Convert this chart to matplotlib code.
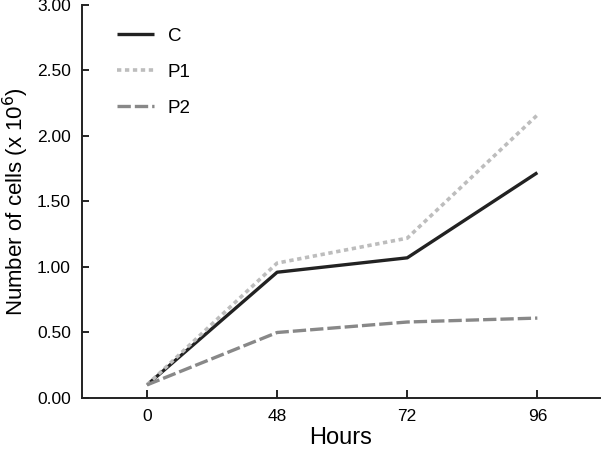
import matplotlib
matplotlib.use("Agg")
import matplotlib.pyplot as plt

hours = ["0", "48", "72", "96"]
c_vals = [0.10, 0.96, 1.07, 1.72]
p1_vals = [0.10, 1.03, 1.22, 2.16]
p2_vals = [0.10, 0.50, 0.58, 0.61]

plt.rcParams["font.family"] = ["Liberation Sans", "DejaVu Sans"]

fig = plt.figure(figsize=(6.01, 4.49), dpi=100)
ax = fig.add_axes([0.1364, 0.1136, 0.8616, 0.8753])

x = range(len(hours))
ax.plot(x, c_vals, color="#222222", lw=2.4, solid_capstyle="butt", label="C")
ax.plot(x, p1_vals, color="#bdbdbd", lw=2.6, linestyle=(0, (1.2, 1.0)),
        dash_capstyle="butt", label="P1")
ax.plot(x, p2_vals, color="#888888", lw=2.4, linestyle=(0, (4, 1.2)),
        dash_capstyle="butt", label="P2")

ax.set_xlim(-0.5, 3.48)
ax.set_ylim(0, 3.0)
ax.set_xticks(list(x))
ax.set_xticklabels(hours)
ax.set_yticks([0, 0.5, 1.0, 1.5, 2.0, 2.5, 3.0])
ax.set_yticklabels([f"{v:.2f}" for v in [0, 0.5, 1.0, 1.5, 2.0, 2.5, 3.0]])
ax.tick_params(axis="x", direction="in", length=6, width=1.2, labelsize=12.5, pad=8)
ax.tick_params(axis="y", direction="in", length=5, width=1.2, labelsize=12.5, pad=8)

for s in ["top", "right"]:
    ax.spines[s].set_visible(False)
for s in ["left", "bottom"]:
    ax.spines[s].set_linewidth(1.4)
    ax.spines[s].set_color("#222222")

ax.set_xlabel("Hours", fontsize=17, labelpad=2)
ax.set_ylabel("Number of cells (x 10$^6$)", fontsize=16, labelpad=4)

ax.legend(loc="upper left", bbox_to_anchor=(0.035, 0.985), frameon=False,
          fontsize=13.5, handlelength=2.0, handletextpad=0.7, labelspacing=1.0)

fig.savefig("out.png", dpi=100)
